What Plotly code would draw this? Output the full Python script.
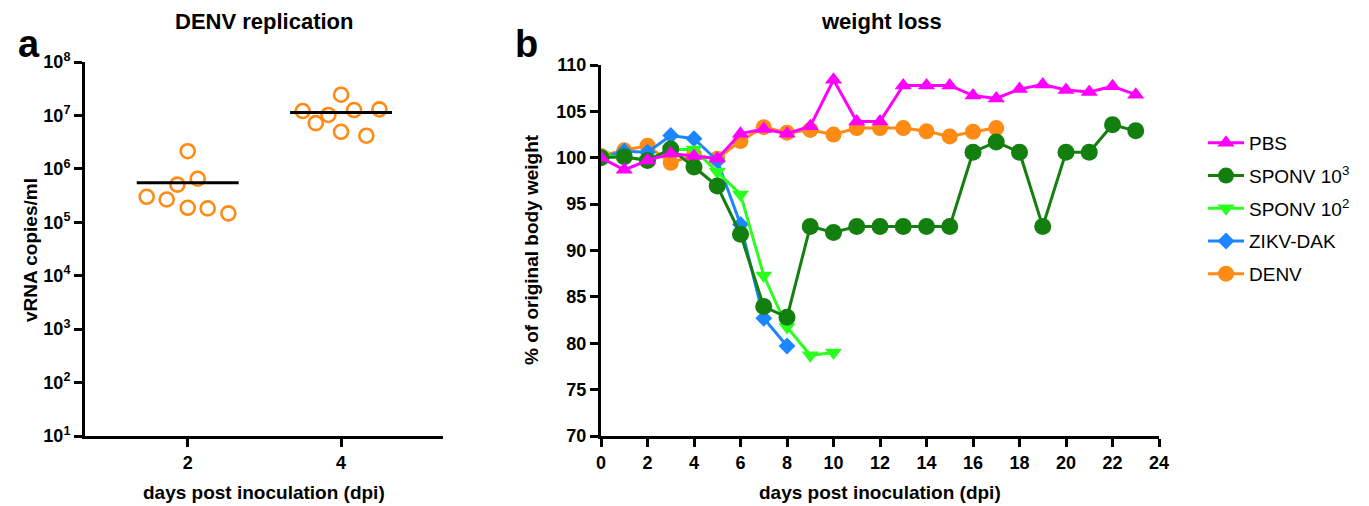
import plotly.graph_objects as go

# ---------------- Panel a data ----------------
day2_offset = [-0.535, -0.274, -0.135, 0.0, 0.13, 0.0, 0.26, 0.53]
day2_vrna = [3.0e5, 2.67e5, 5.07e5, 2.14e6, 6.55e5, 1.87e5, 1.82e5, 1.47e5]
day4_offset = [-0.5, -0.33, -0.165, 0.0, 0.0, 0.17, 0.33, 0.5]
day4_vrna = [1.21e7, 7.17e6, 1.02e7, 2.44e7, 4.94e6, 1.26e7, 4.17e6, 1.30e7]
median_days = [2, 4]
median_vrna = [5.5e5, 1.13e7]
log_ticks = [1, 2, 3, 4, 5, 6, 7, 8]

# ---------------- Panel b data ----------------
pbs_days = list(range(0, 24))
pbs = [100.0, 98.7, 99.7, 100.45, 100.2, 99.9, 102.6, 103.1, 102.6, 103.4, 108.4, 103.9,
       103.9, 107.8, 107.8, 107.8, 106.7, 106.4, 107.4, 107.9, 107.3, 107.1, 107.7, 106.8]
sp3_days = list(range(0, 24))
sp3 = [100.0, 100.1, 99.7, 100.95, 99.0, 96.95, 91.76, 83.96, 82.8, 92.6, 91.94, 92.6,
       92.6, 92.6, 92.6, 92.6, 100.6, 101.7, 100.6, 92.6, 100.6, 100.6, 103.56, 102.9]
sp2_days = list(range(0, 11))
sp2 = [100.3, 100.0, 99.8, 100.9, 100.9, 98.5, 96.05, 87.3, 81.75, 78.7, 79.0]
zikv_days = list(range(0, 9))
zikv = [100.0, 100.7, 100.6, 102.4, 102.06, 99.7, 92.8, 82.7, 79.7]
denv_days = list(range(0, 18))
denv = [100.2, 100.8, 101.3, 99.45, 100.3, 99.9, 101.8, 103.3, 102.7, 103.0, 102.5, 103.2,
        103.2, 103.2, 102.85, 102.3, 102.8, 103.2]

ORANGE = "#FF8A14"
MAGENTA = "#FF00FF"
DKGREEN = "#137F0E"
LIME = "#2BFF1E"
BLUE = "#1C86FF"
FONT = "Liberation Sans, Arial, sans-serif"

W, H = 1369, 506
def px_x(p):
    return p / W
def px_y(p):
    return (H - p) / H

fig = go.Figure()

# Panel a points
fig.add_trace(go.Scatter(
    x=[2 + o for o in day2_offset], y=day2_vrna, mode="markers",
    marker=dict(symbol="circle-open", size=14, color=ORANGE, line=dict(width=2.6, color=ORANGE)),
    xaxis="x", yaxis="y", showlegend=False))
fig.add_trace(go.Scatter(
    x=[4 + o for o in day4_offset], y=day4_vrna, mode="markers",
    marker=dict(symbol="circle-open", size=14, color=ORANGE, line=dict(width=2.6, color=ORANGE)),
    xaxis="x", yaxis="y", showlegend=False))
for d, m in zip(median_days, median_vrna):
    fig.add_trace(go.Scatter(x=[d - 0.665, d + 0.665], y=[m, m], mode="lines",
                             line=dict(color="black", width=3),
                             xaxis="x", yaxis="y", showlegend=False))

# Panel b lines (drawn bottom to top)
series = [
    ("DENV", denv_days, denv, ORANGE, "circle", 16, 5),
    ("ZIKV-DAK", zikv_days, zikv, BLUE, "diamond", 13, 4),
    ("SPONV 10<sup>2</sup>", sp2_days, sp2, LIME, "triangle-down", 15, 3),
    ("SPONV 10<sup>3</sup>", sp3_days, sp3, DKGREEN, "circle", 17, 2),
    ("PBS", pbs_days, pbs, MAGENTA, "triangle-up", 15, 1),
]
for name, xs, ys, col, sym, sz, rank in series:
    fig.add_trace(go.Scatter(
        x=xs, y=ys, name=name, mode="lines+markers",
        line=dict(color=col, width=3),
        marker=dict(symbol=sym, size=sz, color=col, line=dict(width=0)),
        xaxis="x2", yaxis="y2", legendrank=rank, legendgroup=name))

axis_common = dict(showline=True, linecolor="black", linewidth=3, ticks="outside",
                   ticklen=8, tickwidth=3, tickcolor="black", showgrid=False, zeroline=False,
                   automargin=False,
                   tickfont=dict(family=FONT, size=18, color="black", weight="bold"))

fig.update_layout(
    template="none",
    width=W, height=H, paper_bgcolor="white", plot_bgcolor="white",
    margin=dict(l=0, r=0, t=0, b=0, autoexpand=False),
    xaxis=dict(domain=[px_x(85), px_x(443)], range=[0.66, 5.33], tickvals=median_days,
               ticktext=[str(d) for d in median_days], anchor="y", **axis_common),
    yaxis=dict(domain=[px_y(436), px_y(62)], type="log", range=[1, 8],
               tickvals=[10 ** k for k in log_ticks],
               ticktext=["10<sup>%d</sup>" % k for k in log_ticks], anchor="x", **axis_common),
    xaxis2=dict(domain=[px_x(601), px_x(1159)], range=[0, 24], tickvals=list(range(0, 25, 2)),
                anchor="y2", **axis_common),
    yaxis2=dict(domain=[px_y(436), px_y(65)], range=[70, 110], tickvals=list(range(70, 111, 5)),
                anchor="x2", **axis_common),
    legend=dict(x=px_x(1203), y=px_y(124), xanchor="left", yanchor="top",
                font=dict(family=FONT, size=19, color="black"),
                tracegroupgap=5, bgcolor="rgba(0,0,0,0)", itemwidth=36),
    showlegend=True,
)

ann = [
    dict(text="<b>DENV replication</b>", x=px_x(264), y=px_y(22), size=22, angle=0),
    dict(text="<b>weight loss</b>", x=px_x(881), y=px_y(22), size=22, angle=0),
    dict(text="<b>a</b>", x=px_x(29), y=px_y(44), size=38, angle=0),
    dict(text="<b>b</b>", x=px_x(526), y=px_y(44), size=38, angle=0),
    dict(text="<b>days post inoculation (dpi)</b>", x=px_x(264), y=px_y(492), size=19, angle=0),
    dict(text="<b>days post inoculation (dpi)</b>", x=px_x(880), y=px_y(492), size=19, angle=0),
    dict(text="<b>vRNA copies/ml</b>", x=px_x(30), y=px_y(250), size=19, angle=-90),
    dict(text="<b>% of original body weight</b>", x=px_x(531), y=px_y(250), size=19, angle=-90),
]
for a in ann:
    fig.add_annotation(text=a["text"], x=a["x"], y=a["y"], xref="paper", yref="paper",
                       xanchor="center", yanchor="middle", showarrow=False, textangle=a["angle"],
                       font=dict(family=FONT, size=a["size"], color="black"))

fig.write_html("out.html", config={"displayModeBar": False},
               post_script="document.body.style.margin='0';")
